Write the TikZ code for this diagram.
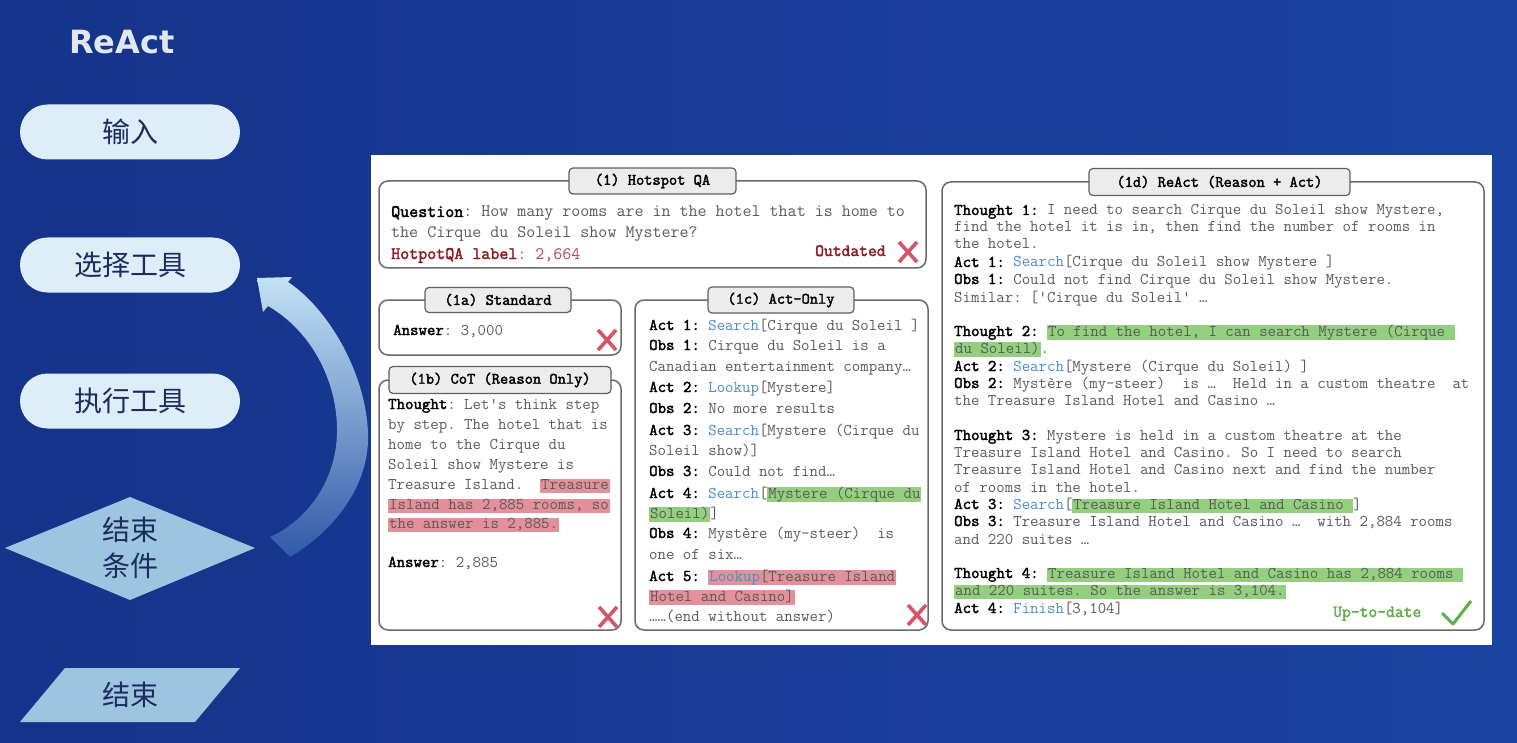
\documentclass[tikz,border=0pt]{standalone}
\usepackage{fontspec}
\newfontfamily\cjkf{Noto Sans CJK SC}
\newfontfamily\titlef{DejaVu Sans}
\newfontfamily\ttheavy{Latin Modern Mono}[FakeBold=2.2]
\definecolor{bgL}{HTML}{15338A}
\definecolor{bgR}{HTML}{1B44A2}
\definecolor{pillc}{HTML}{DDEEF9}
\definecolor{diac}{HTML}{9EC5DF}
\definecolor{navy}{HTML}{1B2D60}
\definecolor{titlec}{HTML}{E2E6EF}
\definecolor{boxc}{HTML}{6A6A6A}
\definecolor{tabc}{HTML}{ECECEC}
\definecolor{txtg}{HTML}{5A5A5A}
\definecolor{actblue}{HTML}{4A8CCB}
\definecolor{hlg}{HTML}{92D07E}
\definecolor{hlr}{HTML}{E4909B}
\definecolor{qred}{HTML}{8E1B24}
\definecolor{qred2}{HTML}{B0475A}
\definecolor{xred}{HTML}{D65468}
\definecolor{okg}{HTML}{5FAE4B}
\definecolor{arrowtop}{HTML}{C3E2F5}
\definecolor{arrowbot}{HTML}{3159A8}
\newcommand\bk[1]{{\ttheavy\color{black}#1}}
\newcommand\bl[1]{{\color{actblue}#1}}
\newcommand\hlG[1]{{\setlength\fboxsep{0pt}\colorbox{hlg}{\rule[-4pt]{0pt}{13pt}\kern1pt#1\kern1pt}}}
\newcommand\hlR[1]{{\setlength\fboxsep{0pt}\colorbox{hlr}{\rule[-4pt]{0pt}{13pt}\kern1pt#1\kern1pt}}}
\newcommand\TL[4]{\node[tline] (#1) at (#2,#3) {#4};}
\newcommand\xmk[2]{\draw[xm] (#1-9,#2-10) -- (#1+9,#2+10) (#1-9,#2+10) -- (#1+9,#2-10);}
\tikzset{
 pill/.style={fill=pillc, rounded corners=27.5pt, minimum width=220pt, minimum height=55pt, inner sep=0pt, text=navy, font=\cjkf\fontsize{28}{30}\selectfont},
 cjktext/.style={text=navy, font=\cjkf\fontsize{28}{36}\selectfont, align=center, inner sep=0pt},
 box/.style={draw=boxc, line width=1.5pt, rounded corners=9pt, fill=white},
 tab/.style={draw=boxc!90!black, line width=1.2pt, fill=tabc, rounded corners=4pt, inner sep=0pt, font=\ttheavy\fontsize{16}{17}\selectfont, text=black},
 tline/.style={anchor=base west, inner sep=0pt, text=txtg, font=\ttfamily\frenchspacing\fontsize{16.4}{17}\selectfont},
 qline/.style={tline, font=\ttfamily\frenchspacing\fontsize{17.5}{18}\selectfont},
 xm/.style={draw=xred, line width=3.6pt},
 ck/.style={draw=okg, line width=3pt, line join=round},
}
\begin{document}
\begin{tikzpicture}[x=1pt,y=-1pt]
\useasboundingbox (0,0) rectangle (1517,743);
\shade[left color=bgL, right color=bgR] (0,0) rectangle (1517,743);
% left flow
\node[text=titlec, font=\titlef\bfseries\fontsize{32}{36}\selectfont, inner sep=0pt] (title) at (122,42) {ReAct};
\node[pill] (inp) at (130,132) {输入};
\node[pill] (sel) at (130,265) {选择工具};
\node[pill] (exe) at (130,401) {执行工具};
\fill[diac] (5,548) -- (130,497) -- (255,548) -- (130,600) -- cycle;
\node[cjktext] (cond) at (130,548) {结束\\条件};
\fill[diac] (20,722) -- (65,668) -- (240,668) -- (195,722) -- cycle;
\node[cjktext] (endn) at (130,695) {结束};
\shade[top color=arrowtop, bottom color=arrowbot]
 (290,557) .. controls (335,530) and (370,485) .. (368,433)
 .. controls (366,375) and (330,310) .. (288,282)
 -- (292,277) -- (257,278) -- (263,312) -- (268,306)
 .. controls (310,330) and (338,380) .. (337,433)
 .. controls (336,480) and (308,520) .. (270,537) -- cycle;
% right panel
\fill[white] (371,155) rectangle (1492,645);
\draw[box] (379,181) rectangle (926,268);
\draw[box] (379,300) rectangle (621,355);
\draw[box] (379,380) rectangle (621,630);
\draw[box] (635,300) rectangle (928,630);
\draw[box] (942,182) rectangle (1484,630);
\node[tab, minimum width=167pt, minimum height=26pt] (tq) at (652.5,181) {(1) Hotspot QA};
\node[tab, minimum width=146pt, minimum height=25pt] (ta) at (498,300) {(1a) Standard};
\node[tab, minimum width=222pt, minimum height=27pt] (tb) at (500,380) {(1b) CoT (Reason Only)};
\node[tab, minimum width=146pt, minimum height=26pt] (tc) at (781,300) {(1c) Act-Only};
\node[tab, minimum width=261pt, minimum height=27pt] (td) at (1219.5,182) {(1d) ReAct (Reason + Act)};
% hotspot
\node[qline] (q1) at (391,217) {\bk{Question}: How many rooms are in the hotel that is home to};
\node[qline] (q2) at (391,238) {the Cirque du Soleil show Mystere?};
\node[qline] (q3) at (391,259) {{\color{qred}\ttheavy HotpotQA label}{\color{qred2}: 2,664}};
\node[qline, text=qred, font=\ttheavy\fontsize{17.1}{18}\selectfont] (outd) at (815,256) {Outdated};
\xmk{908}{252}
% 1a
\TL{a1}{393}{335}{\bk{Answer}: 3,000}
\xmk{607}{340}
% 1b
\TL{b1}{388}{409}{\bk{Thought}: Let's think step}
\TL{b2}{388}{429}{by step. The hotel that is}
\TL{b3}{388}{449}{home to the Cirque du}
\TL{b4}{388}{469}{Soleil show Mystere is}
\TL{b5}{388}{489}{Treasure Island.\ \ \hlR{Treasure}}
\TL{b6}{388}{509}{\hlR{Island has 2,885 rooms, so}}
\TL{b7}{388}{528}{\hlR{the answer is 2,885.}}
\TL{b8}{388}{567}{\bk{Answer}: 2,885}
\xmk{608}{617}
% 1c
\TL{c1}{649}{330}{\bk{Act 1:} \bl{Search}[Cirque du Soleil ]}
\TL{c2}{649}{350}{\bk{Obs 1:} Cirque du Soleil is a}
\TL{c3}{649}{371}{Canadian entertainment company…}
\TL{c4}{649}{392}{\bk{Act 2:} \bl{Lookup}[Mystere]}
\TL{c5}{649}{413}{\bk{Obs 2:} No more results}
\TL{c6}{649}{435}{\bk{Act 3:} \bl{Search}[Mystere (Cirque du}
\TL{c7}{649}{455}{Soleil show)]}
\TL{c8}{649}{476}{\bk{Obs 3:} Could not find…}
\TL{c9}{649}{498}{\bk{Act 4:} \bl{Search}[\hlG{Mystere (Cirque du}}
\TL{c10}{649}{518}{\hlG{Soleil)}]}
\TL{c11}{649}{538}{\bk{Obs 4:} Mystère (my-steer)\ \ is}
\TL{c12}{649}{559}{one of six…}
\TL{c13}{649}{581}{\bk{Act 5:} \hlR{\bl{Lookup}[Treasure Island}}
\TL{c14}{649}{601}{\hlR{Hotel and Casino]}}
\TL{c15}{649}{621}{……(end without answer)}
\xmk{917}{615}
% 1d
\TL{d1}{954}{215}{\bk{Thought 1:} I need to search Cirque du Soleil show Mystere,}
\TL{d2}{954}{232}{find the hotel it is in, then find the number of rooms in}
\TL{d3}{954}{249}{the hotel.}
\TL{d4}{954}{267}{\bk{Act 1:} \bl{Search}[Cirque du Soleil show Mystere ]}
\TL{d5}{954}{284}{\bk{Obs 1:} Could not find Cirque du Soleil show Mystere.}
\TL{d6}{954}{302}{Similar: ['Cirque du Soleil' …}
\TL{d7}{954}{336}{\bk{Thought 2:} \hlG{To find the hotel, I can search Mystere (Cirque }}
\TL{d8}{954}{353}{\hlG{du Soleil)}.}
\TL{d9}{954}{371}{\bk{Act 2:} \bl{Search}[Mystere (Cirque du Soleil) ]}
\TL{d10}{954}{388}{\bk{Obs 2:} Mystère (my-steer)\ \ is …\ \ Held in a custom theatre\ \ at}
\TL{d11}{954}{405}{the Treasure Island Hotel and Casino …}
\TL{d12}{954}{440}{\bk{Thought 3:} Mystere is held in a custom theatre at the}
\TL{d13}{954}{457}{Treasure Island Hotel and Casino. So I need to search}
\TL{d14}{954}{474}{Treasure Island Hotel and Casino next and find the number}
\TL{d15}{954}{492}{of rooms in the hotel.}
\TL{d16}{954}{509}{\bk{Act 3:} \bl{Search}[\hlG{Treasure Island Hotel and Casino }]}
\TL{d17}{954}{526}{\bk{Obs 3:} Treasure Island Hotel and Casino …\ \ with 2,884 rooms}
\TL{d18}{954}{544}{and 220 suites …}
\TL{d19}{954}{578}{\bk{Thought 4:} \hlG{Treasure Island Hotel and Casino has 2,884 rooms }}
\TL{d20}{954}{595}{\hlG{and 220 suites. So the answer is 3,104.}}
\TL{d21}{954}{613}{\bk{Act 4:} \bl{Finish}[3,104]}
\node[qline, text=okg, font=\ttheavy\fontsize{17.1}{18}\selectfont] (upd) at (1333,617) {Up-to-date};
\draw[ck] (1442,613) -- (1453,624) -- (1471,601);
\end{tikzpicture}
\end{document}
